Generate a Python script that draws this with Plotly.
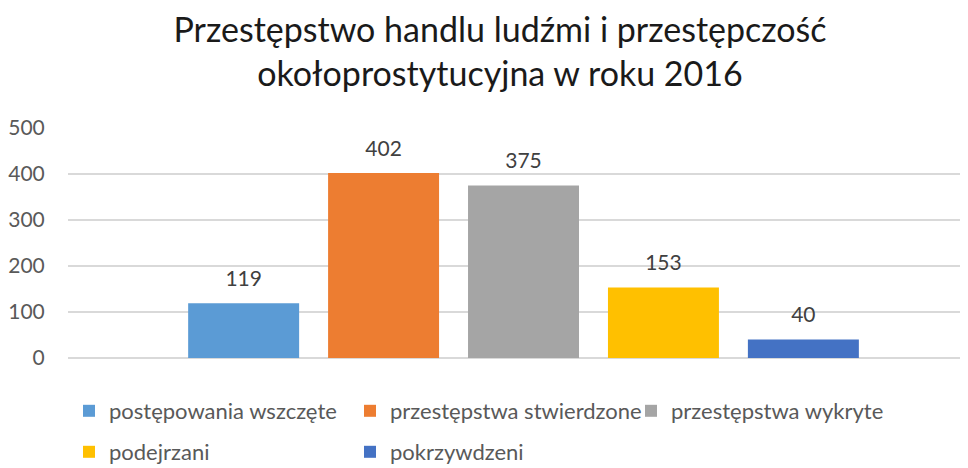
import plotly.graph_objects as go

categories = ["2016"]
series_names = ["postępowania wszczęte", "przestępstwa stwierdzone", "przestępstwa wykryte",
                "podejrzani", "pokrzywdzeni"]
series_values = [119, 402, 375, 153, 40]
colors = ["#5B9BD5", "#ED7D31", "#A5A5A5", "#FFC000", "#4472C4"]
y_ticks = [0, 100, 200, 300, 400, 500]
title_text = "Przestępstwo handlu ludźmi i przestępczość<br>okołoprostytucyjna w roku 2016"

FONT = "Lato"
W, H = 960, 460  # page body adds an 8px offset
fig = go.Figure()
for i, (name, val, col) in enumerate(zip(series_names, series_values, colors)):
    fig.add_trace(go.Bar(
        x=[0], y=[val], name=name, marker=dict(color=col, line=dict(width=0)),
        offsetgroup=str(i), alignmentgroup="g",
        legend="legend" if i < 3 else "legend2",
        hovertext=categories,
    ))
for i, (name, val) in enumerate(zip(series_names, series_values)):
    fig.add_trace(go.Scatter(
        x=[0], y=[val], mode="markers+text", text=[str(val)], textposition="top center",
        marker=dict(size=18, opacity=0), offsetgroup=str(i), alignmentgroup="g",
        textfont=dict(family=FONT, size=21, color="#404040"),
        showlegend=False, hoverinfo="skip", cliponaxis=False,
    ))

legend_common = dict(orientation="h", xref="container", yref="container",
                     xanchor="left", yanchor="middle", entrywidth=236, entrywidthmode="pixels",
                     font=dict(family=FONT, size=22, color="#595959"),
                     bgcolor="rgba(0,0,0,0)", itemclick=False)

fig.update_layout(
    width=W, height=H,
    margin=dict(l=60, r=0, t=120, b=110, autoexpand=False),
    paper_bgcolor="white", plot_bgcolor="white",
    barmode="group", bargap=0.232, bargroupgap=0.207,
    scattermode="group", scattergap=0.232,
    title=dict(text=title_text, x=492/W, xanchor="center", xref="container",
               y=1 - 34/H, yanchor="top", yref="container",
               font=dict(family=FONT, size=34, color="#1a1a1a")),
    xaxis=dict(range=[-0.5, 0.4879], showticklabels=False, showgrid=False,
               zeroline=False, showline=False, fixedrange=True),
    yaxis=dict(range=[0, 500], tickvals=y_ticks, showgrid=True, gridcolor="#d9d9d9",
               gridwidth=1.5, zeroline=True, zerolinecolor="#d9d9d9", zerolinewidth=1.5,
               showline=False, ticks="outside", ticklen=18, tickcolor="rgba(0,0,0,0)",
               tickfont=dict(family=FONT, size=21, color="#595959")),
    showlegend=True,
    legend=dict(legend_common, x=61/W, y=1 - 403/H),
    legend2=dict(legend_common, x=61/W, y=1 - 444/H),
)

fig.write_html("out.html")
